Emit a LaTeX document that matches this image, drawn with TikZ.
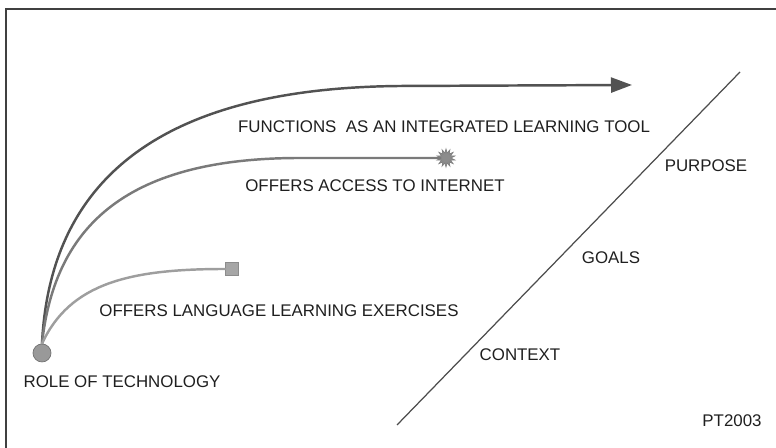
\documentclass[tikz,border=0pt]{standalone}
\usepackage{fontspec}
\setmainfont{Liberation Sans}
\usetikzlibrary{arrows.meta,shapes.geometric}

\begin{document}
\begin{tikzpicture}
\tikzset{
  lbl/.style={font=\fontsize{9.6}{11}\selectfont, text=black!88, inner sep=0pt},
  curve/.style={line width=1.4pt, line cap=round},
}
\useasboundingbox (0,0) rectangle (15.52,8.96);

% frame, only top and left edges show
\coordinate (fbl) at (0.12,0);
\coordinate (ftl) at (0.12,8.78);
\coordinate (ftr) at (15.52,8.78);
\draw[black!75, line width=1.1pt] (fbl) -- (ftl) -- (ftr);

% root of the three curves
\node[draw=black!55, fill=black!40, circle, minimum size=0.36cm, inner sep=0pt](root) at (0.84,1.9) {};
\node[lbl](roletext) at (2.44,1.32) {ROLE OF TECHNOLOGY};

% ends of the curves
\coordinate (toolend) at (12.64,7.26);
\node[draw=black!50, fill=black!45, star, star points=14, star point ratio=1.8, minimum size=0.36cm, inner sep=0pt](web) at (8.92,5.8) {};
\node[draw=black!45, fill=black!35, minimum size=0.26cm, inner sep=0pt](drill) at (4.64,3.58) {};

\draw[curve, black!68, -{Triangle[length=0.42cm, width=0.3cm]}] (root.north) .. controls (1.0,5.36) and (3.2,7.2) .. (8.0,7.24) -- (toolend);
\draw[curve, black!52] (root.north) .. controls (1.1,4.5) and (2.6,5.8) .. (6.0,5.8) -- (web);
\draw[curve, black!38] (root.north) .. controls (1.4,3.3) and (2.6,3.58) .. (drill);

\node[lbl](tooltext) at (8.88,6.42) {FUNCTIONS\ \ AS AN INTEGRATED LEARNING TOOL};
\node[lbl](webtext) at (7.5,5.24) {OFFERS ACCESS TO INTERNET};
\node[lbl](drilltext) at (5.58,2.74) {OFFERS LANGUAGE LEARNING EXERCISES};

% the slope of levels
\coordinate (slopelow) at (7.94,0.46);
\coordinate (slopehigh) at (14.8,7.52);
\draw[black!70, line width=0.7pt] (slopelow) -- (slopehigh);

\node[lbl](purpose) at (14.12,5.64) {PURPOSE};
\node[lbl](goals) at (12.22,3.8) {GOALS};
\node[lbl](context) at (10.4,1.86) {CONTEXT};
\node[lbl](mark) at (14.64,0.54) {PT2003};
\end{tikzpicture}
\end{document}
